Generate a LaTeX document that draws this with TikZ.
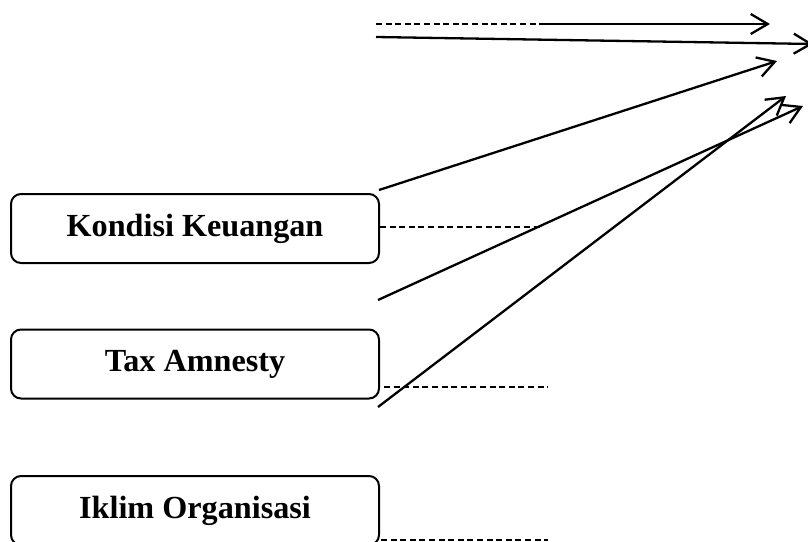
\documentclass[tikz,border=0pt]{standalone}
\usepackage{fontspec}
\setmainfont{Liberation Serif}
\usetikzlibrary{arrows.meta}

\tikzset{
  varbox/.style={draw, line width=2pt, rounded corners=10pt,
    minimum width=368pt, minimum height=69pt, inner sep=0pt,
    font=\bfseries\fontsize{32.2}{36}\selectfont},
  dashline/.style={line width=1.5pt, dash pattern=on 6pt off 3.6pt},
  arr/.style={line width=2.3pt, -{Straight Barb[length=17pt,width=20pt,line width=2.3pt]}}
}

\begin{document}
\begin{tikzpicture}[x=1pt,y=-1pt]
\path[use as bounding box] (0,0) rectangle (808,541);
\clip (0,0) rectangle (808,541);

% variable boxes
\node[varbox] (keu) at (195,228.5) {Kondisi Keuangan};
\node[varbox] (tax) at (195,364) {Tax Amnesty};
\node[varbox] (ikl) at (195,510.5) {Iklim Organisasi};

% start and end points
\coordinate (t1) at (376,24);
\coordinate (t2) at (540,24);
\coordinate (t3) at (770,24);
\coordinate (s1) at (376,37);
\coordinate (s2) at (813,44);
\coordinate (k1) at (379,190);
\coordinate (k2) at (777,61);
\coordinate (a1) at (378,300);
\coordinate (a2) at (803,106);
\coordinate (b1) at (378,407);
\coordinate (b2) at (786,96);
\coordinate (kd) at (540,227);
\coordinate (ad) at (548,387);
\coordinate (id) at (548,540);

\draw[dashline] (t1) -- (t2);
\draw[arr] (t2) -- (t3);
\draw[arr] (s1) -- (s2);
\draw[arr] (k1) -- (k2);
\draw[arr] (a1) -- (a2);
\draw[arr] (b1) -- (b2);

\draw[dashline] (keu.east) ++(0,-1.5) -- (kd);
\draw[dashline] (tax.east) ++(4,23) -- (ad);
\draw[dashline] (ikl.east) ++(1,29.5) -- (id);
\end{tikzpicture}
\end{document}
